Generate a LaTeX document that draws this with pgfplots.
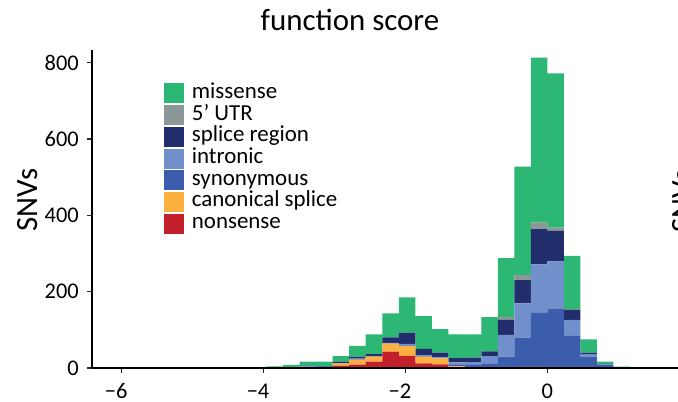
\documentclass[border=0pt]{standalone}
\usepackage{fontspec}
\setmainfont{Carlito}
\usepackage{pgfplots}
\pgfplotsset{compat=1.18}
\usepackage{pgfplotstable}

\definecolor{cmis}{HTML}{2DB775}
\definecolor{cutr}{HTML}{8C9898}
\definecolor{cspl}{HTML}{222E6B}
\definecolor{cintr}{HTML}{7190CB}
\definecolor{csyn}{HTML}{3B5DAC}
\definecolor{ccan}{HTML}{FBB040}
\definecolor{cnon}{HTML}{C4202B}

\pgfplotstableread{
x non can syn intr spl utr mis
-5.9364 0 0 0 0 0 0 1
-5.7036 0 0 0 0 0 0 1
-5.4708 0 0 0 0 0 0 1
-5.2380 0 0 0 0 0 0 1
-5.0052 0 0 0 0 0 0 1
-4.7724 0 0 0 0 0.5 0 1
-4.5396 0 0 0 0 1 0 0.5
-4.3068 0 0 0 0 0 0 1
-4.0740 0 0 0 0 0 0 1.5
-3.8412 0.5 0.5 0 0 0 0 3
-3.6084 1 1 0 0 0.5 0 6
-3.3756 1 1 1 1 2 0 11
-3.1428 1 1 0.5 0.5 1.5 0 12
-2.9100 6 6 0.5 0.5 4 0 14
-2.6772 9 13 1 1.5 5.5 0 28
-2.4444 16.5 13 0.5 0.5 6 0 51.5
-2.2116 43 21 0.5 1 14.5 0 63
-1.9788 32 25 2 4 29.5 0 92.5
-1.7460 12 18 1 3 16 0 86
-1.5132 9.5 15.5 1 2 12 0 62
-1.2804 2 3 3 7 11 0 62
-1.0476 0.5 1 7 7 12 0 60.5
-0.8148 0 1 11 19 12.5 0.5 89
-0.5820 0 1 29 56.5 39.5 7 154.5
-0.3492 0 3 76.5 90 61 13.5 283.5
-0.1164 0.5 2.5 143 125.5 92.5 17 432
0.1164 0 2 152 125 80.5 8.5 404
0.3492 0 1 83 42 26 2 139.5
0.5820 0 0 30 6.5 3.5 0 35
0.8148 0 0 8 1.5 1 0 6
1.0476 0 0 1 0 0 0 2.5
1.2804 0 0 0 0 0 0.5 0.5
1.5132 0 0 0 0 0 0.5 0.5
1.7460 0 0 0 0 0 0.5 0.5
}\datatable

\begin{document}
\begin{tikzpicture}
\begin{axis}[
  at={(92bp,34bp)}, anchor=south west,
  scale only axis, width=585.9bp, height=318bp,
  xmin=-6.42, xmax=1.84, ymin=0, ymax=833,
  ybar stacked, bar width=0.2328,
  axis lines*=left,
  axis line style={-, line width=1.4bp, black},
  axis on top,
  /pgf/number format/assume math mode=true,
  xtick={-6,-4,-2,0},
  xticklabels={\llap{−}6,\llap{−}4,\llap{−}2,0},
  ytick={0,200,400,600,800},
  tick align=outside, major tick length=5bp,
  tick style={line width=1.2bp, black!85},
  xticklabel style={anchor=base, inner sep=0pt, yshift=-25.5bp, font=\fontsize{22.5}{27}\selectfont},
  yticklabel style={anchor=east, inner sep=0pt, xshift=-8bp, font=\fontsize{22.5}{27}\selectfont},
  legend style={at={(0.1217,0.8953)}, anchor=north west, draw=none, fill=none,
    inner sep=0pt, row sep=1.67bp, column sep=7.7bp,
    font=\fontsize{23}{23}\selectfont,
    nodes={inner sep=0pt, text height=15bp, text depth=5bp}},
  legend cell align=left,
  reverse legend,
  legend image code/.code={\path[#1,draw=none] (0bp,-10bp) rectangle (20.7bp,10bp);},
]
\addplot[fill=cnon, draw=none] table[x=x, y=non] {\datatable};
\addplot[fill=ccan, draw=none] table[x=x, y=can] {\datatable};
\addplot[fill=csyn, draw=none] table[x=x, y=syn] {\datatable};
\addplot[fill=cintr, draw=none] table[x=x, y=intr] {\datatable};
\addplot[fill=cspl, draw=none] table[x=x, y=spl] {\datatable};
\addplot[fill=cutr, draw=none] table[x=x, y=utr] {\datatable};
\addplot[fill=cmis, draw=none] table[x=x, y=mis] {\datatable};
\legend{nonsense, canonical splice, synonymous, intronic, splice region, 5{\char"0027} UTR, missense}
\end{axis}
\node[anchor=base, font=\fontsize{31}{36}\selectfont] at (350bp,371bp) {function score};
\node[anchor=base, rotate=90, font=\fontsize{31}{36}\selectfont] at (37bp,202bp) {SNVs};
\node[anchor=base, rotate=90, font=\fontsize{31}{36}\selectfont] at (692bp,201bp) {SNVs};
\pgfresetboundingbox
\useasboundingbox (0,0) rectangle (678bp,402bp);
\end{tikzpicture}
\end{document}
